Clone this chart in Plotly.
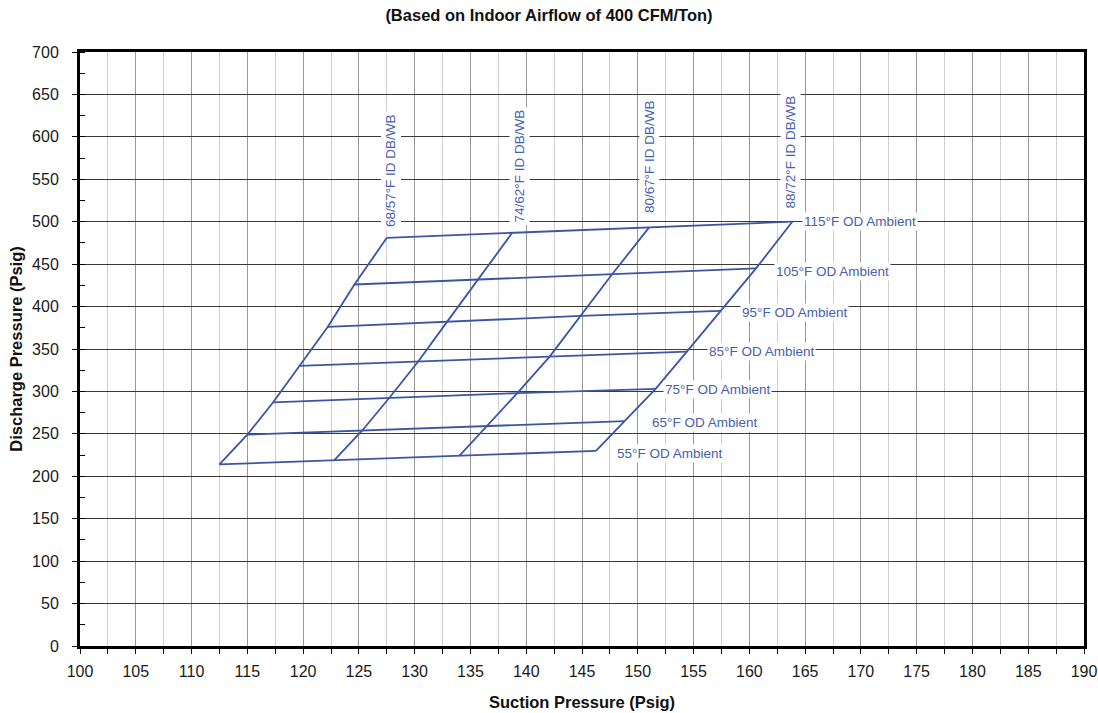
import plotly.graph_objects as go

# Outdoor ambient temperatures (°F) for each constant-ambient line
ambient_f = [55, 65, 75, 85, 95, 105, 115]

# Indoor entering air conditions (dry bulb / wet bulb)
indoor_labels = ["68/57°F ID DB/WB", "74/62°F ID DB/WB", "80/67°F ID DB/WB", "88/72°F ID DB/WB"]

# Suction pressure (psig) at each ambient, one list per indoor condition
suction_68_57 = [112.5, 115.0, 117.3, 119.7, 122.2, 124.6, 127.5]
suction_74_62 = [122.8, 125.3, 127.7, 130.3, 132.9, 135.7, 138.75]
suction_80_67 = [134.0, 136.5, 139.2, 142.1, 144.9, 147.7, 151.0]
suction_88_72 = [146.25, 148.85, 151.6, 154.4, 157.4, 160.6, 163.85]

# Discharge pressure (psig) at each ambient, one list per indoor condition
discharge_68_57 = [214, 249, 287, 330, 376, 426, 481]
discharge_74_62 = [219, 254, 292, 335, 382, 432, 487]
discharge_80_67 = [224, 259, 298, 341, 389, 438, 493]
discharge_88_72 = [230, 265, 303, 347, 395, 445, 500]

suction = [suction_68_57, suction_74_62, suction_80_67, suction_88_72]
discharge = [discharge_68_57, discharge_74_62, discharge_80_67, discharge_88_72]

# Axis tick values
x_ticks = list(range(100, 191, 5))
y_ticks = list(range(0, 701, 50))

LINE = "#3b55a6"
TEXT = "#4760b0"
FONT = "Liberation Sans, Arial, sans-serif"

fig = go.Figure()

# Constant indoor-condition lines (diagonals)
for s, d in zip(suction, discharge):
    fig.add_trace(go.Scatter(x=s, y=d, mode="lines",
                             line=dict(color=LINE, width=1.8),
                             hoverinfo="skip", showlegend=False))

# Constant outdoor-ambient lines (across the indoor conditions)
for i in range(len(ambient_f)):
    fig.add_trace(go.Scatter(x=[s[i] for s in suction], y=[d[i] for d in discharge],
                             mode="lines", line=dict(color=LINE, width=1.8),
                             hoverinfo="skip", showlegend=False))

# Ambient labels to the right of the warmest indoor line
amb_xshift = [19, 25, 7, 20, 20, 18, 10]
amb_yshift = [-3, -1, -1, 0, -2, -3, 0]
for i, t in enumerate(ambient_f):
    fig.add_annotation(x=suction[-1][i], y=discharge[-1][i], text=f"{t}°F OD Ambient",
                       showarrow=False, xanchor="left", yanchor="middle",
                       xshift=amb_xshift[i], yshift=amb_yshift[i],
                       font=dict(family=FONT, size=13.5, color=TEXT),
                       bgcolor="white", borderpad=1)

# Indoor-condition labels above the top of each diagonal
id_xshift = [4, 7, 0, -2]
id_yshift = [8, 7, 12, 10]
for k, lab in enumerate(indoor_labels):
    fig.add_annotation(x=suction[k][-1], y=discharge[k][-1], text=lab,
                       showarrow=False, textangle=-90, xanchor="center", yanchor="bottom",
                       xshift=id_xshift[k], yshift=id_yshift[k],
                       font=dict(family=FONT, size=13.5, color=TEXT),
                       bgcolor="white", borderpad=2)

fig.update_layout(
    width=1098, height=713,
    margin=dict(l=80, r=14, t=52, b=67),
    paper_bgcolor="white", plot_bgcolor="white",
    font=dict(family=FONT, size=16, color="#1a1a1a"),
    title=dict(text="<b>(Based on Indoor Airflow of 400 CFM/Ton)</b>",
               x=0.5, xanchor="center", y=1 - 15 / 713, yanchor="middle",
               font=dict(family=FONT, size=16.5, color="#111")),
)

fig.update_xaxes(
    range=[100, 190], tickvals=x_ticks, ticktext=[str(v) for v in x_ticks],
    automargin=False,
    showgrid=True, gridcolor="#9a9a9a", gridwidth=1,
    minor=dict(dtick=2.5, tick0=100, showgrid=True, gridcolor="#cfcfcf", gridwidth=1,
               ticks="outside", ticklen=5, tickcolor="black"),
    ticks="outside", ticklen=5, tickcolor="black", tickwidth=1,
    ticklabelstandoff=4,
    showline=True, linecolor="black", linewidth=3, mirror=True,
    zeroline=False, tickfont=dict(family=FONT, size=16, color="#1a1a1a"),
    title=dict(text="<b>Suction Pressure (Psig)</b>", standoff=18,
               font=dict(family=FONT, size=16.5, color="#111")),
)

fig.update_yaxes(
    range=[0, 700], tickvals=y_ticks, ticktext=[str(v) for v in y_ticks],
    automargin=False,
    showgrid=True, gridcolor="#3a3a3a", gridwidth=1,
    minor=dict(dtick=25, tick0=0, showgrid=False,
               ticks="inside", ticklen=5, tickcolor="black"),
    ticks="outside", ticklen=5, tickcolor="black", tickwidth=1,
    ticklabelstandoff=10,
    showline=True, linecolor="black", linewidth=3, mirror=True,
    zeroline=False, tickfont=dict(family=FONT, size=16, color="#1a1a1a"),
    title=dict(text="<b>Discharge Pressure (Psig)</b>", standoff=6,
               font=dict(family=FONT, size=16.5, color="#111")),
)

fig.write_html("out.html")
